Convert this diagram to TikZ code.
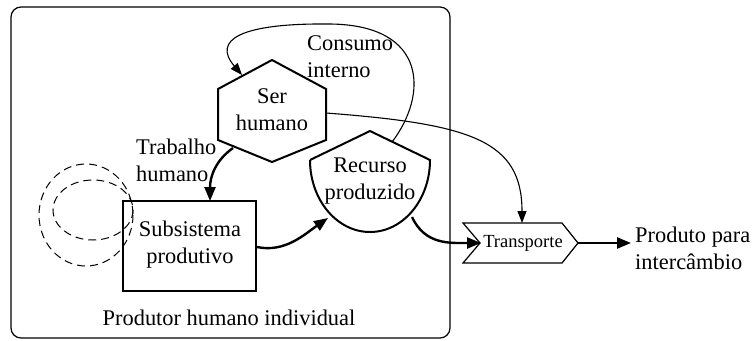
\documentclass[tikz,border=0pt]{standalone}
\usepackage{fontspec}
\setmainfont{Liberation Serif}
\usetikzlibrary{arrows.meta}
\begin{document}
\begin{tikzpicture}[x=1pt,y=-1pt,
  thinline/.style={line width=1.2pt},
  thickshape/.style={line width=2pt},
  bigarrow/.style={line width=2.4pt,-{Triangle[length=14pt,width=11pt]}},
  smallarrow/.style={line width=1.1pt,-{Triangle[length=12pt,width=9pt]}},
  lbl/.style={inner sep=0pt,font=\fontsize{22.4}{27}\selectfont,align=center},
  lbll/.style={inner sep=0pt,font=\fontsize{22.4}{27}\selectfont,align=left}]
\useasboundingbox (0,0) rectangle (754,340);
% outer box
\draw[thinline,rounded corners=10pt] (11,7) rectangle (450,338);
% rectangle
\draw[thinline] (123,201) rectangle (256,291);
% dashed ellipses
\draw[line width=1pt,dash pattern=on 8pt off 5pt] (86,215) ellipse [x radius=47,y radius=51];
\draw[line width=1pt,dash pattern=on 8pt off 5pt] (93,210) ellipse [x radius=40,y radius=30];
\node[lbl] (sub) at (190,245) {Subsistema\\produtivo};
% hexagon
\draw[thickshape] (272,60) -- (326,89) -- (326,140) -- (272,162) -- (218,140) -- (218,89) -- cycle;
\node[lbl] (ser) at (272,110) {Ser\\humano};
% recurso
\draw[thickshape] (310,160) -- (370,131) -- (430,160) arc[start angle=0,end angle=180,x radius=60,y radius=72];
\node[lbl] (rec) at (370,181) {Recurso\\produzido};
% transporte
\draw[thinline] (463,223) -- (562,223) -- (578,243) -- (562,263) -- (463,263) -- (480,243) -- cycle;
\node[inner sep=0pt,font=\fontsize{18.5}{22}\selectfont] (tra) at (523,243) {Transporte};
% labels
\node[lbll,anchor=west] (trab) at (136,160) {Trabalho\\humano};
\node[lbll,anchor=west] (cons) at (307,57) {Consumo\\interno};
\node[lbl] (prod) at (229,318) {Produtor humano individual};
\node[lbll,anchor=west] (out) at (635,248) {Produto para\\intercâmbio};
% coordinates
\coordinate (serBL) at (233,148);
\coordinate (subT) at (210,201);
\coordinate (subR) at (257,247);
\coordinate (recL) at (328,218);
\coordinate (recTR) at (392,142);
\coordinate (serTL) at (242,75);
\coordinate (serR) at (326,113);
\coordinate (traT) at (522,223);
\coordinate (recBR) at (412,217);
\coordinate (traL) at (481,243);
\coordinate (traR) at (578,243);
\coordinate (outL) at (631,243);
% connectors
\draw[bigarrow] (serBL) .. controls (216,160) and (210,176) .. (subT);
\draw[bigarrow] (subR) .. controls (285,253) and (305,234) .. (recL);
\draw[smallarrow] (recTR) .. controls (428,95) and (428,25) .. (330,24) .. controls (240,23) and (212,40) .. (serTL);
\draw[smallarrow] (serR) .. controls (470,124) and (522,140) .. (traT);
\draw[bigarrow] (recBR) .. controls (425,245) and (450,243) .. (traL);
\draw[bigarrow] (traR) -- (outL);
\end{tikzpicture}
\end{document}
